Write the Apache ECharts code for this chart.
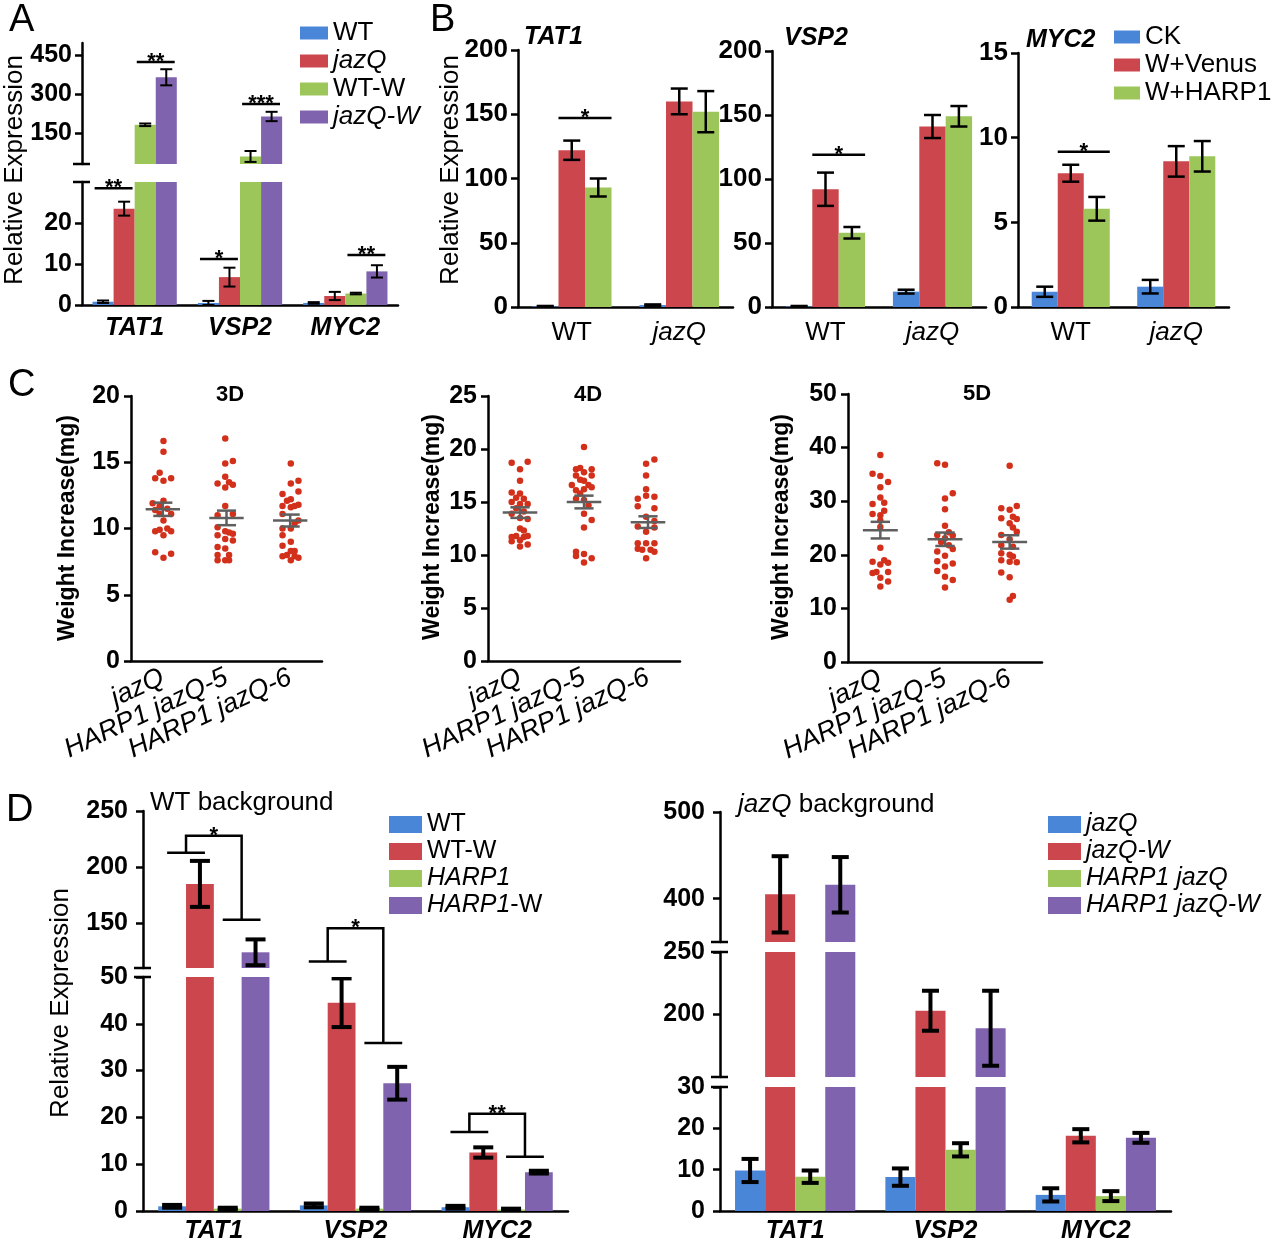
<!DOCTYPE html>
<html><head><meta charset="utf-8">
<script src="https://cdn.jsdelivr.net/npm/echarts@6/dist/echarts.min.js"></script>
<style>html,body{margin:0;padding:0;background:#fff}#c{width:1280px;height:1244px}</style>
</head><body><div id="c"></div><script>
// ================= DATA =================
const genes = ['TAT1', 'VSP2', 'MYC2'];

// Panel A  (order of genes: TAT1, VSP2, MYC2)
const aNames = ['WT', 'jazQ', 'WT-W', 'jazQ-W'];
const aWT = [0.8, 0.5, 0.5];
const aJazQ = [23.5, 6.8, 2.2];
const aWTW = [181, 59, 2.8];
const aJazQW = [364, 213, 8.2];
const aErrWT = [0.3, 0.5, 0.2];
const aErrJazQ = [1.7, 2.3, 1.0];
const aErrWTW = [5, 21, 0.2];
const aErrJazQW = [31, 18, 1.5];
const aUpperTicks = [150, 300, 450];
const aLowerTicks = [0, 10, 20];

// Panel B
const bGenotypes = ['WT', 'jazQ'];
const bNames = ['CK', 'W+Venus', 'W+HARP1'];
const bTAT1_CK = [0.5, 1.5], bTAT1_Venus = [122, 160], bTAT1_HARP1 = [93, 152];
const bTAT1_errCK = [0.3, 0.5], bTAT1_errVenus = [7.5, 10], bTAT1_errHARP1 = [7, 16];
const bVSP2_CK = [0.5, 12], bVSP2_Venus = [92, 141], bVSP2_HARP1 = [58, 149];
const bVSP2_errCK = [0.3, 1.5], bVSP2_errVenus = [13, 9], bVSP2_errHARP1 = [4.5, 8];
const bMYC2_CK = [0.9, 1.2], bMYC2_Venus = [7.9, 8.6], bMYC2_HARP1 = [5.8, 8.9];
const bMYC2_errCK = [0.3, 0.4], bMYC2_errVenus = [0.5, 0.9], bMYC2_errHARP1 = [0.7, 0.9];
const bTicks200 = [0, 50, 100, 150, 200];
const bTicks15 = [0, 5, 10, 15];

// Panel C  (each point: [horizontal jitter within group, weight increase])
const cLines = ['jazQ', 'HARP1 jazQ-5', 'HARP1 jazQ-6'];
const c3D_jazQ = [[0.01,16.6],[0.01,15.8],[-0.05,14.2],[-0.12,13.8],[0.01,13.6],[0.13,13.8],[-0.16,11.9],[0.01,12.1],[-0.05,11.7],[-0.12,11.4],[0.07,11.5],[0.13,11.1],[-0.05,11.1],[0.01,10.6],[-0.12,9.8],[-0.05,9.9],[0.07,10.0],[0.13,9.8],[0.01,9.5],[-0.12,8.2],[0.01,7.8],[0.13,8.1]];
const c3D_h5 = [[-0.02,16.8],[-0.02,14.9],[0.1,15.1],[-0.02,13.9],[-0.14,13.4],[0.04,13.5],[0.1,13.3],[-0.02,13.1],[-0.02,11.7],[-0.14,11.0],[0.1,11.1],[-0.14,10.1],[-0.02,9.8],[0.04,9.7],[0.1,9.6],[-0.14,9.5],[-0.02,9.2],[0.1,9.1],[-0.14,8.6],[-0.02,8.5],[0.04,8.0],[-0.14,8.0],[-0.14,7.6],[-0.02,7.6],[0.04,7.6]];
const c3D_h6 = [[0.01,14.9],[0.01,13.4],[0.13,13.6],[0.13,12.8],[-0.12,12.6],[0.01,12.2],[-0.05,12.1],[-0.12,11.7],[0.13,11.8],[0.07,11.7],[0.01,11.6],[-0.12,11.1],[0.13,10.6],[0.07,10.4],[0.01,10.0],[-0.12,10.0],[-0.12,9.5],[0.01,9.0],[-0.12,8.7],[0.01,8.3],[0.07,8.3],[-0.05,8.0],[-0.12,7.9],[0.07,7.9],[0.13,7.8],[0.01,7.6]];
const c3DMean = [11.45, 10.8, 10.6];
const c3DSem = [0.5, 0.55, 0.45];
const c4D_jazQ = [[-0.13,18.7],[0.12,18.8],[0,18.1],[0,17.0],[-0.13,15.9],[0,15.8],[-0.06,15.4],[0.06,15.3],[-0.13,15.0],[0,14.8],[0.12,14.8],[-0.06,14.4],[0.06,14.1],[-0.13,13.9],[0,13.5],[0.12,13.4],[0,12.5],[0.06,12.3],[-0.13,11.7],[-0.06,11.8],[0.06,11.7],[0.12,11.8],[-0.13,11.3],[0,11.4],[0.12,11.0],[0,10.8]];
const c4D_h5 = [[0,20.2],[-0.125,18.1],[-0.06,18.2],[0.12,18.1],[0,17.8],[-0.125,17.5],[0.12,17.5],[-0.06,17.1],[0,17.0],[-0.19,16.6],[0.07,16.6],[0.12,16.4],[-0.125,16.1],[0,16.2],[-0.06,15.8],[-0.125,15.3],[0,15.2],[0.07,14.7],[0,13.9],[0.12,13.3],[0,12.6],[-0.125,10.3],[0,10.1],[-0.125,9.9],[0.12,9.7],[0,9.3]];
const c4D_h6 = [[-0.03,18.6],[0.1,19.0],[-0.03,17.5],[-0.03,16.2],[0.1,15.5],[-0.16,15.3],[-0.03,15.6],[-0.16,14.6],[0.1,14.4],[-0.03,13.6],[0.1,13.2],[-0.16,12.7],[0.1,12.6],[-0.03,12.2],[-0.16,11.1],[0.1,11.1],[-0.03,11.1],[-0.16,10.6],[-0.09,10.5],[0.04,10.5],[0.1,10.3],[-0.03,9.7]];
const c4DMean = [14.0, 15.0, 13.1];
const c4DSem = [0.5, 0.6, 0.55];
const c5D_jazQ = [[0,38.6],[-0.12,35.1],[0,34.7],[0.12,33.6],[0,32.6],[0,30.7],[0.06,29.7],[-0.12,29.5],[-0.12,27.6],[0.06,28.2],[0,27.4],[0,26.4],[0,25.2],[0,21.3],[0.06,19.0],[-0.12,18.7],[0.12,18.5],[0,18.2],[-0.06,16.8],[0.12,16.8],[-0.12,16.6],[0,15.7],[0.12,15.0],[0,14.1]];
const c5D_h5 = [[-0.12,37.1],[0,36.8],[0.12,31.5],[0,30.5],[0,28.5],[0,25.4],[0.06,24.2],[-0.12,23.7],[0.12,23.6],[0,23.1],[-0.06,22.4],[0.06,21.8],[0.12,21.1],[-0.12,20.6],[0,19.8],[-0.12,18.8],[0.12,18.4],[0,17.8],[-0.12,17.0],[0,15.9],[0.12,15.3],[0,13.9]];
const c5D_h6 = [[0,36.6],[0.11,29.1],[-0.13,28.7],[0,28.4],[0.05,27.1],[-0.13,26.8],[0.11,26.7],[0,25.9],[0.05,25.1],[0.11,24.3],[-0.13,23.7],[0,22.9],[-0.13,21.8],[0.05,21.5],[-0.13,20.3],[0,20.0],[0.05,19.7],[-0.13,19.0],[0,18.7],[0.11,18.6],[-0.13,16.7],[0,15.8],[0.05,12.3],[0,11.6]];
const c5DMean = [24.6, 22.9, 22.4];
const c5DSem = [1.55, 1.25, 1.25];

// Panel D, WT background
const dLNames = ['WT', 'WT-W', 'HARP1', 'HARP1-W'];
const dL_WT = [1.0, 1.2, 0.8], dL_errWT = [0.3, 0.4, 0.3];
const dL_WTW = [185, 44.5, 12.5], dL_errWTW = [20.5, 5.2, 1.1];
const dL_HARP1 = [0.5, 0.5, 0.3], dL_errHARP1 = [0.2, 0.2, 0.2];
const dL_HARP1W = [124, 27.3, 8.3], dL_errHARP1W = [11.5, 3.5, 0.3];
const dLUpperTicks = [150, 200, 250];
const dLLowerTicks = [0, 10, 20, 30, 40, 50];

// Panel D, jazQ background
const dRNames = ['jazQ', 'jazQ-W', 'HARP1 jazQ', 'HARP1 jazQ-W'];
const dR_jazQ = [9.8, 8.2, 3.9], dR_errJazQ = [2.8, 2.1, 1.6];
const dR_jazQW = [405, 203, 18.2], dR_errJazQW = [44, 16, 1.6];
const dR_HjazQ = [8.3, 14.8, 3.6], dR_errHjazQ = [1.5, 1.6, 1.2];
const dR_HjazQW = [416, 189, 17.7], dR_errHjazQW = [32, 30, 1.2];
const dRUpperTicks = [400, 500];
const dRMidTicks = [200, 250];
const dRLowerTicks = [0, 10, 20, 30];

// ================= STYLE / BUILD =================
const FONT = '"Liberation Sans", Arial, Helvetica, sans-serif';
const BLUE = '#4a86d8', RED = '#cc474d', GREEN = '#9cc65a', PURPLE = '#8063ae';
const DOT = '#d3301b', MEANC = '#5f5f5f';
function richFor(fs, fw) {
  return {
    i: {fontStyle: 'italic', fontSize: fs, fontFamily: FONT, fontWeight: fw || 'normal', color: '#000'},
    n: {fontSize: fs, fontFamily: FONT, fontWeight: fw || 'normal', color: '#000'}
  };
}

const option = {animation: false, backgroundColor: '#fff', grid: [], xAxis: [], yAxis: [], series: [], legend: []};

function errRender(n, gap, capW, lw) {
  return function (params, api) {
    const cat = api.value(0), v = api.value(1), e = api.value(2), k = api.value(3);
    const band = api.size([1, 0])[0];
    const bw = band * (1 - gap) / n;
    const c = api.coord([cat, v]);
    const x = c[0] + (k - (n - 1) / 2) * bw;
    const yH = api.coord([cat, v + e])[1];
    const yL = api.coord([cat, Math.max(v - e, 0)])[1];
    const st = {stroke: '#000', lineWidth: lw};
    return {type: 'group', children: [
      {type: 'line', shape: {x1: x, y1: yH, x2: x, y2: yL}, style: st},
      {type: 'line', shape: {x1: x - capW / 2, y1: yH, x2: x + capW / 2, y2: yH}, style: st},
      {type: 'line', shape: {x1: x - capW / 2, y1: yL, x2: x + capW / 2, y2: yL}, style: st}
    ]};
  };
}

function addBarGrid(p) {
  const gi = option.grid.length;
  const xs = p.xSize || 24;
  option.grid.push({left: p.rect[0], top: p.rect[1], width: p.rect[2], height: p.rect[3]});
  option.xAxis.push({
    gridIndex: gi, type: 'category', data: p.cats,
    axisLine: {show: p.showX, onZero: false, lineStyle: {color: '#000', width: 2.5}},
    axisTick: {show: false}, splitLine: {show: false},
    axisLabel: {show: p.showX, interval: 0, margin: p.xMargin || 10, formatter: p.xfmt,
      color: '#000', fontSize: xs, fontFamily: FONT,
      fontWeight: p.xBold ? 'bold' : 'normal', fontStyle: p.xItalic ? 'italic' : 'normal',
      rich: richFor(xs, p.xBold ? 'bold' : 'normal')}
  });
  option.yAxis.push({
    gridIndex: gi, type: 'value', min: p.ymin, max: p.ymax,
    axisLine: {show: true, onZero: false, lineStyle: {color: '#000', width: 2.5}},
    axisTick: {show: true, length: 7, lineStyle: {color: '#000', width: 2.5}, customValues: p.ticks},
    axisLabel: {customValues: p.ticks, margin: p.tickMargin || 10, color: '#000', fontSize: p.tickSize || 24,
      fontFamily: FONT, fontWeight: 'bold'},
    splitLine: {show: false}
  });
  p.ids.forEach((id, k) => {
    option.series.push({type: 'bar', name: id, xAxisIndex: gi, yAxisIndex: gi, data: p.vals[k],
      barGap: '0%', barCategoryGap: (p.gap * 100) + '%', itemStyle: {color: p.colors[k]}, clip: true, silent: true});
  });
  const ed = [];
  p.vals.forEach((arr, k) => arr.forEach((v, i) => ed.push([i, v, p.errs[k][i], k])));
  option.series.push({type: 'custom', xAxisIndex: gi, yAxisIndex: gi, clip: true, silent: true, z: 5,
    data: ed, renderItem: errRender(p.ids.length, p.gap, p.capW, p.lw)});
  return gi;
}

function addScatterGrid(p) {
  const gi = option.grid.length;
  option.grid.push({left: p.rect[0], top: p.rect[1], width: p.rect[2], height: p.rect[3]});
  option.xAxis.push({
    gridIndex: gi, type: 'value', min: -0.5, max: 2.5,
    axisLine: {show: true, onZero: false, lineStyle: {color: '#000', width: 2.5}},
    axisTick: {show: false}, splitLine: {show: false},
    axisLabel: {customValues: [0, 1, 2], formatter: v => cLines[Math.round(v)], rotate: 25, margin: 15,
      color: '#000', fontSize: 27, fontStyle: 'italic', fontFamily: FONT}
  });
  option.yAxis.push({
    gridIndex: gi, type: 'value', min: 0, max: p.ymax, interval: p.interval,
    axisLine: {show: true, onZero: false, lineStyle: {color: '#000', width: 2.5}},
    axisTick: {show: true, length: 7, lineStyle: {color: '#000', width: 2.5}},
    axisLabel: {margin: 11, color: '#000', fontSize: 25, fontFamily: FONT, fontWeight: 'bold'},
    splitLine: {show: false}
  });
  const pts = [];
  p.groups.forEach((g, i) => g.forEach(d => pts.push([i + d[0], d[1]])));
  option.series.push({type: 'scatter', xAxisIndex: gi, yAxisIndex: gi, data: pts, symbolSize: 6.5,
    itemStyle: {color: DOT, opacity: 1}, silent: true, z: 2});
  const md = p.means.map((m, i) => [i, m, p.sems[i]]);
  option.series.push({type: 'custom', xAxisIndex: gi, yAxisIndex: gi, silent: true, z: 6, data: md,
    renderItem: function (params, api) {
      const i = api.value(0), m = api.value(1), s = api.value(2);
      const u = api.size([1, 0])[0];
      const c = api.coord([i, m]);
      const yH = api.coord([i, m + s])[1], yL = api.coord([i, m - s])[1];
      const st = {stroke: MEANC, lineWidth: 2.5};
      return {type: 'group', children: [
        {type: 'line', shape: {x1: c[0] - 0.27 * u, y1: c[1], x2: c[0] + 0.27 * u, y2: c[1]}, style: st},
        {type: 'line', shape: {x1: c[0], y1: yH, x2: c[0], y2: yL}, style: st},
        {type: 'line', shape: {x1: c[0] - 0.15 * u, y1: yH, x2: c[0] + 0.15 * u, y2: yH}, style: st},
        {type: 'line', shape: {x1: c[0] - 0.15 * u, y1: yL, x2: c[0] + 0.15 * u, y2: yL}, style: st}
      ]};
    }});
  return gi;
}

function legendOf(ids, disp, left, top, iw, ih, fs, lh, gap) {
  return {show: true, orient: 'vertical', left: left, top: top, itemWidth: iw, itemHeight: ih, itemGap: gap,
    icon: 'rect', selectedMode: false, padding: 0, data: ids, formatter: name => disp[name],
    textStyle: {color: '#000', fontSize: fs, fontFamily: FONT, lineHeight: lh,
      rich: {n: {fontSize: fs, fontFamily: FONT, lineHeight: lh, color: '#000'},
             i: {fontSize: fs, fontFamily: FONT, lineHeight: lh, fontStyle: 'italic', color: '#000'}}}};
}
function richName(parts) { return parts.map(p => '{' + p[0] + '|' + p[1] + '}').join(''); }

// ---- Panel A ----
const aIds = aNames.map(n => 'A_' + n);
const aCommon = {cats: genes, ids: aIds, colors: [BLUE, RED, GREEN, PURPLE],
  vals: [aWT, aJazQ, aWTW, aJazQW], errs: [aErrWT, aErrJazQ, aErrWTW, aErrJazQW],
  gap: 0.2, capW: 12, lw: 2, xItalic: true, xBold: true, xMargin: 11, xSize: 25, tickSize: 25};
const gAU = addBarGrid(Object.assign({}, aCommon, {rect: [82, 43, 316, 121], ymin: 30, ymax: 496, ticks: aUpperTicks, showX: false}));
const gAL = addBarGrid(Object.assign({}, aCommon, {rect: [82, 182, 316, 123], ymin: 0, ymax: 30, ticks: aLowerTicks, showX: true}));
option.legend.push(legendOf(aIds, {
  'A_WT': richName([['n', 'WT']]), 'A_jazQ': richName([['i', 'jazQ']]),
  'A_WT-W': richName([['n', 'WT-W']]), 'A_jazQ-W': richName([['i', 'jazQ-W']])
}, 300, 20, 28, 13, 26, 24, 2));

// ---- Panel B ----
const bIds = bNames.map(n => 'B_' + n);
const bFmt = v => v === 'jazQ' ? '{i|jazQ}' : '{n|' + v + '}';
const bCommon = {cats: bGenotypes, ids: bIds, colors: [BLUE, RED, GREEN], gap: 0.26, capW: 17, lw: 2.5,
  showX: true, xfmt: bFmt, xMargin: 13, xSize: 26, tickSize: 26};
const gB1 = addBarGrid(Object.assign({}, bCommon, {rect: [518, 50, 215, 257], ymin: 0, ymax: 200, ticks: bTicks200,
  vals: [bTAT1_CK, bTAT1_Venus, bTAT1_HARP1], errs: [bTAT1_errCK, bTAT1_errVenus, bTAT1_errHARP1]}));
const gB2 = addBarGrid(Object.assign({}, bCommon, {rect: [772, 51, 214, 256], ymin: 0, ymax: 200, ticks: bTicks200,
  vals: [bVSP2_CK, bVSP2_Venus, bVSP2_HARP1], errs: [bVSP2_errCK, bVSP2_errVenus, bVSP2_errHARP1]}));
const gB3 = addBarGrid(Object.assign({}, bCommon, {rect: [1018, 53, 211, 254], ymin: 0, ymax: 15, ticks: bTicks15,
  vals: [bMYC2_CK, bMYC2_Venus, bMYC2_HARP1], errs: [bMYC2_errCK, bMYC2_errVenus, bMYC2_errHARP1]}));
option.legend.push(legendOf(bIds, {
  'B_CK': richName([['n', 'CK']]), 'B_W+Venus': richName([['n', 'W+Venus']]), 'B_W+HARP1': richName([['n', 'W+HARP1']])
}, 1114, 24, 26, 13, 26, 23, 2));

// ---- Panel C ----
const gC1 = addScatterGrid({rect: [131, 396, 191, 265], ymax: 20, interval: 5,
  groups: [c3D_jazQ, c3D_h5, c3D_h6], means: c3DMean, sems: c3DSem});
const gC2 = addScatterGrid({rect: [488, 396, 192, 265], ymax: 25, interval: 5,
  groups: [c4D_jazQ, c4D_h5, c4D_h6], means: c4DMean, sems: c4DSem});
const gC3 = addScatterGrid({rect: [848, 394, 194, 268], ymax: 50, interval: 10,
  groups: [c5D_jazQ, c5D_h5, c5D_h6], means: c5DMean, sems: c5DSem});

// ---- Panel D left ----
const dLIds = dLNames.map(n => 'DL_' + n);
const dLCommon = {cats: genes, ids: dLIds, colors: [BLUE, RED, GREEN, PURPLE],
  vals: [dL_WT, dL_WTW, dL_HARP1, dL_HARP1W], errs: [dL_errWT, dL_errWTW, dL_errHARP1, dL_errHARP1W],
  gap: 0.215, capW: 20, lw: 4, xItalic: true, xBold: true, xMargin: 8, xSize: 25, tickSize: 25, tickMargin: 15};
const gDLU = addBarGrid(Object.assign({}, dLCommon, {rect: [143, 811, 425, 157], ymin: 110, ymax: 250, ticks: dLUpperTicks, showX: false}));
const gDLL = addBarGrid(Object.assign({}, dLCommon, {rect: [143, 977, 425, 234], ymin: 0, ymax: 50, ticks: dLLowerTicks, showX: true}));
option.legend.push(legendOf(dLIds, {
  'DL_WT': richName([['n', 'WT']]), 'DL_WT-W': richName([['n', 'WT-W']]),
  'DL_HARP1': richName([['i', 'HARP1']]), 'DL_HARP1-W': richName([['i', 'HARP1'], ['n', '-W']])
}, 389, 812, 33, 17, 25, 22, 2));

// ---- Panel D right ----
const dRIds = dRNames.map(n => 'DR_' + n);
const dRCommon = {cats: genes, ids: dRIds, colors: [BLUE, RED, GREEN, PURPLE],
  vals: [dR_jazQ, dR_jazQW, dR_HjazQ, dR_HjazQW], errs: [dR_errJazQ, dR_errJazQW, dR_errHjazQ, dR_errHjazQW],
  gap: 0.2, capW: 17, lw: 4, xItalic: true, xBold: true, xMargin: 8, xSize: 25, tickSize: 25, tickMargin: 15};
const gDRU = addBarGrid(Object.assign({}, dRCommon, {rect: [720, 812, 451, 130], ymin: 350, ymax: 500, ticks: dRUpperTicks, showX: false}));
const gDRM = addBarGrid(Object.assign({}, dRCommon, {rect: [720, 952, 451, 125], ymin: 150, ymax: 250, ticks: dRMidTicks, showX: false}));
const gDRL = addBarGrid(Object.assign({}, dRCommon, {rect: [720, 1087, 451, 125], ymin: 0, ymax: 30, ticks: dRLowerTicks, showX: true}));
option.legend.push(legendOf(dRIds, {
  'DR_jazQ': richName([['i', 'jazQ']]), 'DR_jazQ-W': richName([['i', 'jazQ-W']]),
  'DR_HARP1 jazQ': richName([['i', 'HARP1 jazQ']]), 'DR_HARP1 jazQ-W': richName([['i', 'HARP1 jazQ-W']])
}, 1048, 812, 33, 17, 25, 22, 2));

// significance annotations (data units)
const aSig = [
  {g: gAU, cat: 0, from: 2, to: 3, y: 423, t: '**'},
  {g: gAL, cat: 0, from: 0, to: 1, y: 28.5, t: '**'},
  {g: gAL, cat: 1, from: 0, to: 1, y: 11.2, t: '*'},
  {g: gAU, cat: 1, from: 2, to: 3, y: 261, t: '***'},
  {g: gAL, cat: 2, from: 2, to: 3, y: 12.2, t: '**'}
];
const bSig = [
  {g: gB1, cat: 0, from: 1, to: 2, y: 147, t: '*'},
  {g: gB2, cat: 0, from: 1, to: 2, y: 119, t: '*'},
  {g: gB3, cat: 0, from: 1, to: 2, y: 9.17, t: '*'}
];
const dBrackets = [
  {cat: 0, L: [gDLU, 212.8], R: [gDLU, 153], T: [gDLU, 228], t: '*'},
  {cat: 1, L: [gDLU, 115.8], R: [gDLL, 35.9], T: [gDLU, 145.5], t: '*'},
  {cat: 2, L: [gDLL, 16.9], R: [gDLL, 11.6], T: [gDLL, 20.8], t: '**'}
];

const chart = echarts.init(document.getElementById('c'), null, {renderer: 'canvas'});
chart.setOption(option);

// ================= ANNOTATIONS =================
function px(g, x, y) { return chart.convertToPixel({gridIndex: g}, [x, y]); }
const G = [];
const LS = {stroke: '#000', lineWidth: 2.5};
function txt(x, y, text, o) {
  o = o || {};
  G.push({type: 'text', x: x, y: y, rotation: o.rot || 0, z: 100,
    style: {text: text, fontSize: o.fs || 24, fontFamily: FONT, fontWeight: o.fw || 'normal',
      fontStyle: o.fst || 'normal', fill: '#000', align: o.al || 'left', verticalAlign: o.va || 'top', rich: o.rich}});
}
function star(x, yLine, t) { txt(x, yLine + 11, t, {fs: 22, fw: 'bold', al: 'center', va: 'bottom'}); }

function simpleSig(list, n, gap, ext) {
  list.forEach(s => {
    const c = px(s.g, s.cat, s.y);
    const band = px(s.g, 1, s.y)[0] - px(s.g, 0, s.y)[0];
    const bw = band * (1 - gap) / n;
    const x1 = c[0] + (s.from - (n - 1) / 2) * bw - ext * bw;
    const x2 = c[0] + (s.to - (n - 1) / 2) * bw + ext * bw;
    G.push({type: 'line', z: 100, shape: {x1: x1, y1: c[1], x2: x2, y2: c[1]}, style: LS});
    star((x1 + x2) / 2, c[1], s.t);
  });
}
simpleSig(aSig, 4, 0.2, 0.4);
simpleSig(bSig, 3, 0.26, 0.5);

dBrackets.forEach(b => {
  const c = px(gDLL, b.cat, 0);
  const band = px(gDLL, 1, 0)[0] - px(gDLL, 0, 0)[0];
  const bw = band * (1 - 0.215) / 4;
  const lm = c[0] - bw, rm = c[0] + bw, h = 0.68 * bw;
  const yL = px(b.L[0], b.cat, b.L[1])[1], yR = px(b.R[0], b.cat, b.R[1])[1], yT = px(b.T[0], b.cat, b.T[1])[1];
  G.push({type: 'line', z: 100, shape: {x1: lm - h, y1: yL, x2: lm + h, y2: yL}, style: LS});
  G.push({type: 'line', z: 100, shape: {x1: rm - h, y1: yR, x2: rm + h, y2: yR}, style: LS});
  G.push({type: 'polyline', z: 100, shape: {points: [[lm, yL], [lm, yT], [rm, yT], [rm, yR]]}, style: Object.assign({fill: null}, LS)});
  star((lm + rm) / 2, yT, b.t);
});

// axis-break marks
[[gAU, 30], [gAL, 30], [gDLU, 110], [gDLL, 50], [gDRU, 350], [gDRM, 250], [gDRM, 150], [gDRL, 30]].forEach(b => {
  const p = px(b[0], 0, b[1]);
  const ax = option.grid[b[0]].left;
  G.push({type: 'line', z: 100, shape: {x1: ax - 9, y1: p[1], x2: ax + 8, y2: p[1]}, style: LS});
});

// panel letters
txt(9, 2, 'A', {fs: 38});
txt(430, 2, 'B', {fs: 38});
txt(8, 367, 'C', {fs: 38});
txt(6, 792, 'D', {fs: 38});
// axis titles
txt(15, 170, 'Relative Expression', {fs: 26, rot: Math.PI / 2, al: 'center', va: 'middle'});
txt(451, 170, 'Relative Expression', {fs: 26, rot: Math.PI / 2, al: 'center', va: 'middle'});
txt(61, 1003, 'Relative Expression', {fs: 26, rot: Math.PI / 2, al: 'center', va: 'middle'});
[[68, 528], [433, 527], [782, 527]].forEach(p => txt(p[0], p[1], 'Weight Increase(mg)', {fs: 23, fw: 'bold', rot: Math.PI / 2, al: 'center', va: 'middle'}));
// subplot titles
txt(524, 37, 'TAT1', {fs: 25, fw: 'bold', fst: 'italic', va: 'middle'});
txt(784, 38, 'VSP2', {fs: 25, fw: 'bold', fst: 'italic', va: 'middle'});
txt(1026, 40, 'MYC2', {fs: 25, fw: 'bold', fst: 'italic', va: 'middle'});
txt(230, 395, '3D', {fs: 22, fw: 'bold', al: 'center', va: 'middle'});
txt(588, 395, '4D', {fs: 22, fw: 'bold', al: 'center', va: 'middle'});
txt(977, 394, '5D', {fs: 22, fw: 'bold', al: 'center', va: 'middle'});
txt(150, 803, 'WT background', {fs: 26, va: 'middle'});
txt(738, 805, '{i|jazQ}{n| background}', {fs: 26, va: 'middle', rich: richFor(26)});

chart.setOption({graphic: G});
</script></body></html>
